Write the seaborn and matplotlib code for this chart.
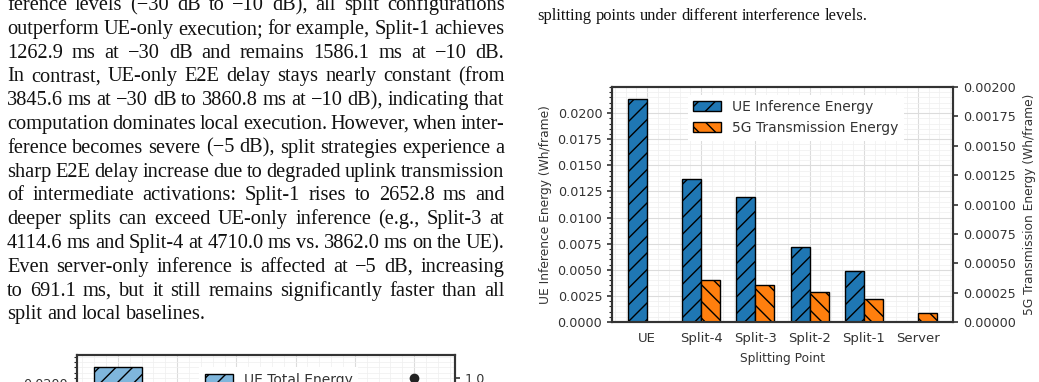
import numpy as np
import pandas as pd
import seaborn as sns
import matplotlib.pyplot as plt
from matplotlib.ticker import AutoMinorLocator
from matplotlib.patches import Patch

## data
points = ["UE", "Split-4", "Split-3", "Split-2", "Split-1", "Server"]
ue_energy = [0.02137, 0.01367, 0.01201, 0.00716, 0.00486, 0.0]
tx_energy = [0.0, 0.000355, 0.000313, 0.000256, 0.000193, 0.0000767]
total_energy = [0.0215, 0.0141, 0.0124, 0.0074, 0.0051, 0.0001]
dot_points = ["Server"]
dot_values = [1.0]

body_lines = [
    "ference levels (\u221230 dB to \u221210 dB), all split configurations",
    "outperform UE-only execution; for example, Split-1 achieves",
    "1262.9 ms at \u221230 dB and remains 1586.1 ms at \u221210 dB.",
    "In contrast, UE-only E2E delay stays nearly constant (from",
    "3845.6 ms at \u221230 dB to 3860.8 ms at \u221210 dB), indicating that",
    "computation dominates local execution. However, when inter-",
    "ference becomes severe (\u22125 dB), split strategies experience a",
    "sharp E2E delay increase due to degraded uplink transmission",
    "of intermediate activations: Split-1 rises to 2652.8 ms and",
    "deeper splits can exceed UE-only inference (e.g., Split-3 at",
    "4114.6 ms and Split-4 at 4710.0 ms vs. 3862.0 ms on the UE).",
    "Even server-only inference is affected at \u22125 dB, increasing",
    "to 691.1 ms, but it still remains significantly faster than all",
    "split and local baselines.",
]
caption_line = "splitting points under different interference levels."

sns.set_style("ticks")
plt.rcParams["font.family"] = ["DejaVu Sans"]
plt.rcParams["hatch.linewidth"] = 1.0

W, H = 1039, 382
fig = plt.figure(figsize=(W / 100, H / 100), dpi=100)
renderer = fig.canvas.get_renderer()

def px_axes(l, t, r, b):
    return fig.add_axes([l / W, 1 - b / H, (r - l) / W, (b - t) / H])

## --- page text (justified) ---
serif = ["Liberation Serif", "DejaVu Serif"]

def put_line(text, x0, x1, y, size, justify=True):
    words = text.split(" ")
    ts = [fig.text(0, 0, w, family=serif, fontsize=size, color="#111111",
                   va="baseline", ha="left") for w in words]
    widths = [t.get_window_extent(renderer).width for t in ts]
    if justify and len(words) > 1:
        gap = (x1 - x0 - sum(widths)) / (len(words) - 1)
    else:
        gap = 0.25 * size * 100 / 72
    x = x0
    for t, w in zip(ts, widths):
        t.set_position((x / W, 1 - y / H))
        x += w + gap

for i, line in enumerate(body_lines):
    put_line(line, 7, 504.5, 10 + i * 23.8, 14.7, justify=(i < len(body_lines) - 1))
put_line(caption_line, 537, 868, 20.5, 11.9, justify=False)

## --- common styling ---
dark = "#333333"

def style_axes(a):
    for s in a.spines.values():
        s.set_visible(True)
        s.set_color(dark)
        s.set_linewidth(1.5)
    a.tick_params(colors=dark, labelcolor=dark)

## --- main chart ---
ax = px_axes(612, 87, 953, 322)
kinds = ["UE Inference Energy", "5G Transmission Energy"]
colors = ["#1f77b4", "#ff7f0e"]
nan6 = [np.nan] * len(points)
df_ue = pd.DataFrame({"point": points * 2, "energy": ue_energy + nan6,
                      "kind": [kinds[0]] * 6 + [kinds[1]] * 6})
df_tx = pd.DataFrame({"point": points * 2, "energy": nan6 + tx_energy,
                      "kind": [kinds[0]] * 6 + [kinds[1]] * 6})

sns.barplot(data=df_ue, x="point", y="energy", hue="kind", hue_order=kinds,
            order=points, palette=colors, saturation=1, width=0.7, dodge=True,
            edgecolor="black", linewidth=1, errorbar=None, legend=False, ax=ax)
ax2 = ax.twinx()
sns.barplot(data=df_tx, x="point", y="energy", hue="kind", hue_order=kinds,
            order=points, palette=colors, saturation=1, width=0.7, dodge=True,
            edgecolor="black", linewidth=1, errorbar=None, legend=False, ax=ax2)
for p in ax.patches:
    p.set_hatch("//")
for p in ax2.patches:
    p.set_hatch("\\\\")

ax.set_xlim(-0.65, 5.65)
ax.set_ylim(0, 0.0225)
ax2.set_ylim(0, 0.002)
ax2.set_yticks(np.arange(0, 0.00201, 0.00025))
ax.set_yticks(np.arange(0, 0.0201, 0.0025))

ax.yaxis.set_minor_locator(AutoMinorLocator(5))
ax.xaxis.set_minor_locator(AutoMinorLocator(5))
ax.set_axisbelow(True)
ax.grid(which="major", color="#dcdcdc", lw=0.8)
ax.grid(which="minor", color="#efefef", lw=0.5)

style_axes(ax)
style_axes(ax2)
ax.tick_params(axis="x", which="both", length=0, pad=7.5, labelsize=9.5)
ax.tick_params(axis="y", which="major", length=3.5, width=1.2, labelsize=9.2)
ax.tick_params(axis="y", which="minor", length=2, width=0.8)
ax2.tick_params(axis="y", which="major", length=3.5, width=1.2, labelsize=9.2)

ax.set_xlabel("Splitting Point", fontsize=8.8, color=dark, labelpad=5)
ax.set_ylabel("UE Inference Energy (Wh/frame)", fontsize=8.8, color=dark)
ax2.set_ylabel("5G Transmission Energy (Wh/frame)", fontsize=8.8, color=dark, labelpad=5)

handles = [Patch(facecolor=colors[0], edgecolor="black", hatch="//", label=kinds[0]),
           Patch(facecolor=colors[1], edgecolor="black", hatch="\\\\", label=kinds[1])]
leg = ax2.legend(handles=handles, loc="upper left", bbox_to_anchor=(0.222, 0.968),
                 borderaxespad=0, fontsize=10, frameon=True, fancybox=False,
                 framealpha=1, edgecolor="none", facecolor="white")
for t in leg.get_texts():
    t.set_color(dark)

## --- lower chart (cut off by the page edge) ---
bx = px_axes(77, 355, 455, 590)
light = "#7fb6dc"
sns.barplot(x=points, y=total_energy, order=points, color=light, saturation=1,
            width=0.8, edgecolor="black", linewidth=1, errorbar=None, ax=bx)
for p in bx.patches:
    p.set_hatch("//")
bx.set_xlim(-0.69, 5.69)
bx.set_ylim(0, 0.0227)
bx.set_yticks(np.arange(0, 0.0201, 0.0025))
bx.yaxis.set_minor_locator(AutoMinorLocator(5))
bx.xaxis.set_minor_locator(AutoMinorLocator(5))
bx.set_axisbelow(True)
bx.grid(which="major", color="#dcdcdc", lw=0.8)
bx.grid(which="minor", color="#efefef", lw=0.5)
bx2 = bx.twinx()
sns.stripplot(x=dot_points, y=dot_values, order=points, jitter=False,
              color="#222222", size=7, ax=bx2)
bx2.set_ylim(0, 1.11)
bx2.set_xlim(-0.69, 5.69)
style_axes(bx)
style_axes(bx2)
# the x tick labels sit below the page edge, so they are left out
bx.tick_params(axis="x", which="both", length=0, labelbottom=False)
bx.tick_params(axis="y", which="major", length=3.5, width=1.2, labelsize=9.2)
bx.tick_params(axis="y", which="minor", length=2, width=0.8)
bx2.tick_params(axis="y", which="major", length=3.5, width=1.2, labelsize=9.2)
bx.set_ylabel("")
bx2.set_ylabel("")
leg2 = bx2.legend(handles=[Patch(facecolor=light, edgecolor="black", hatch="//",
                                 label="UE Total Energy")],
                  loc="upper left", bbox_to_anchor=(0.324, 0.947), borderaxespad=0,
                  fontsize=10, frameon=True, fancybox=False, framealpha=1,
                  edgecolor="none", facecolor="white")
for t in leg2.get_texts():
    t.set_color(dark)

fig.savefig("out.png", dpi=100)
